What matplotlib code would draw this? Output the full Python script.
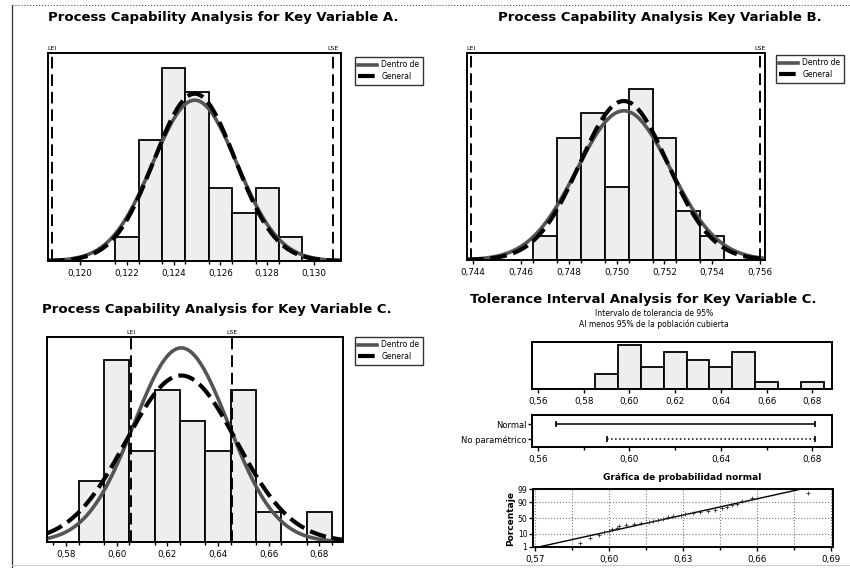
import numpy as np
import matplotlib
matplotlib.use("Agg")
import matplotlib.pyplot as plt
from matplotlib.lines import Line2D
from statistics import NormalDist

# -------- DATA --------
# Variable A (bin centres, counts, spec limits, fitted normals)
a_centers = [0.122, 0.123, 0.124, 0.125, 0.126, 0.127, 0.128, 0.129]
a_counts = [1, 5, 8, 7, 3, 2, 3, 1]
a_lsl, a_usl = 0.1188, 0.1308
a_mean, a_sd_within, a_sd_overall = 0.1249, 0.00180, 0.00173
a_ticks = [0.120, 0.122, 0.124, 0.126, 0.128, 0.130]
a_ticklabels = ["0,120", "0,122", "0,124", "0,126", "0,128", "0,130"]

# Variable B
b_centers = [0.747, 0.748, 0.749, 0.750, 0.751, 0.752, 0.753, 0.754]
b_counts = [1, 5, 6, 3, 7, 5, 2, 1]
b_lsl, b_usl = 0.7439, 0.7560
b_mean, b_sd_within, b_sd_overall = 0.7503, 0.00196, 0.00184
b_ticks = [0.744, 0.746, 0.748, 0.750, 0.752, 0.754, 0.756]
b_ticklabels = ["0,744", "0,746", "0,748", "0,750", "0,752", "0,754", "0,756"]

# Variable C (individual observations)
c_sample = [0.588, 0.592,
            0.596, 0.598, 0.600, 0.601, 0.603, 0.604,
            0.607, 0.610, 0.613,
            0.616, 0.618, 0.620, 0.622, 0.624,
            0.626, 0.629, 0.631, 0.634,
            0.637, 0.640, 0.643,
            0.646, 0.648, 0.650, 0.652, 0.654,
            0.658,
            0.681]
c_bins = [0.585, 0.595, 0.605, 0.615, 0.625, 0.635, 0.645, 0.655, 0.665, 0.675, 0.685]
c_lsl, c_usl = 0.6055, 0.6455
c_mean, c_sd_within, c_sd_overall = 0.6255, 0.0187, 0.0218
c_ticks = [0.58, 0.60, 0.62, 0.64, 0.66, 0.68]
c_ticklabels = ["0,58", "0,60", "0,62", "0,64", "0,66", "0,68"]

# Tolerance interval panel
d_ticks = [0.56, 0.58, 0.60, 0.62, 0.64, 0.66, 0.68]
d_ticklabels = ["0,56", "0,58", "0,60", "0,62", "0,64", "0,66", "0,68"]
int_ticks = [0.56, 0.60, 0.64, 0.68]
int_ticklabels = ["0,56", "0,60", "0,64", "0,68"]
int_names = ["Normal", "No paramétrico"]
int_low = [0.568, 0.590]
int_high = [0.681, 0.681]
prob_ticks = [0.57, 0.60, 0.63, 0.66, 0.69]
prob_ticklabels = ["0,57", "0,60", "0,63", "0,66", "0,69"]
prob_pct = [1, 10, 50, 90, 99]

W, H = 850, 568
plt.rcParams["font.family"] = ["DejaVu Sans"]
fig = plt.figure(figsize=(W / 100, H / 100), dpi=100)


def box(l, t, r, b):
    return [l / W, 1 - b / H, (r - l) / W, (b - t) / H]


def style_axes(ax):
    for s in ax.spines.values():
        s.set_linewidth(1.4)
    ax.tick_params(axis="x", labelsize=6.3, length=3, width=1, pad=3)
    ax.tick_params(axis="x", which="minor", length=2, width=1)


def capability(ax, centers, counts, width, lsl, usl, mean, sdw, sdo,
               ticks, labels, xlim, ytop):
    n = sum(counts)
    ax.bar(centers, counts, width=width, color="#eeeeee",
           edgecolor="black", linewidth=1.3)
    x = np.linspace(xlim[0], xlim[1], 400)
    pdf_w = n * width * np.exp(-0.5 * ((x - mean) / sdw) ** 2) / (sdw * np.sqrt(2 * np.pi))
    pdf_o = n * width * np.exp(-0.5 * ((x - mean) / sdo) ** 2) / (sdo * np.sqrt(2 * np.pi))
    ax.plot(x, pdf_w, color="#555555", lw=2.6, label="Dentro de")
    ax.plot(x, pdf_o, color="black", lw=3, dashes=(4, 1.6), label="General")
    ax.axvline(lsl, color="black", lw=1.4, dashes=(6, 3))
    ax.axvline(usl, color="black", lw=1.4, dashes=(6, 3))
    ax.text(lsl, ytop * 1.01, "LEI", ha="center", va="bottom", fontsize=4.5)
    ax.text(usl, ytop * 1.01, "LSE", ha="center", va="bottom", fontsize=4.5)
    ax.set_xlim(xlim)
    ax.set_ylim(0, ytop)
    ax.set_yticks([])
    ax.set_xticks(ticks)
    ax.set_xticklabels(labels)
    ax.set_xticks(np.array(centers) - width / 2, minor=True)
    style_axes(ax)


def cap_legend(ax, x, y):
    ax.legend(loc="upper left", bbox_to_anchor=(x / W, 1 - y / H),
              bbox_transform=fig.transFigure, fontsize=5.5, frameon=True,
              fancybox=False, edgecolor="black", handlelength=2.4,
              borderpad=0.45, labelspacing=0.35, handletextpad=0.6,
              borderaxespad=0).get_frame().set_linewidth(1.0)


# -------- PANEL A --------
ax_a = fig.add_axes(box(48, 53, 341, 261))
capability(ax_a, a_centers, a_counts, 0.001, a_lsl, a_usl, a_mean,
           a_sd_within, a_sd_overall, a_ticks, a_ticklabels,
           (0.11863, 0.13115), 8.6)
cap_legend(ax_a, 355, 57)
fig.text(223 / W, 1 - 18 / H, "Process Capability Analysis for Key Variable A.",
         ha="center", va="center", fontsize=9.5, fontweight="bold")

# -------- PANEL B --------
ax_b = fig.add_axes(box(467, 53, 765, 260))
capability(ax_b, b_centers, b_counts, 0.001, b_lsl, b_usl, b_mean,
           b_sd_within, b_sd_overall, b_ticks, b_ticklabels,
           (0.74375, 0.7562), 8.47)
cap_legend(ax_b, 776, 55)
fig.text(660 / W, 1 - 18 / H, "Process Capability Analysis Key Variable B.",
         ha="center", va="center", fontsize=9.5, fontweight="bold")

# -------- PANEL C --------
c_counts, _ = np.histogram(c_sample, bins=c_bins)
c_centers = (np.array(c_bins[:-1]) + np.array(c_bins[1:])) / 2
ax_c = fig.add_axes(box(47, 337, 343, 542))
capability(ax_c, c_centers, c_counts, 0.01, c_lsl, c_usl, c_mean,
           c_sd_within, c_sd_overall, c_ticks, c_ticklabels,
           (0.5725, 0.6894), 6.76)
ax_c.set_xticks(np.arange(0.575, 0.69, 0.01), minor=True)
cap_legend(ax_c, 355, 337)
fig.text(217 / W, 1 - 310 / H, "Process Capability Analysis for Key Variable C.",
         ha="center", va="center", fontsize=9.5, fontweight="bold")

# -------- PANEL D: tolerance interval --------
fig.text(643 / W, 1 - 300 / H, "Tolerance Interval Analysis for Key Variable C.",
         ha="center", va="center", fontsize=9.5, fontweight="bold")
fig.text(654 / W, 1 - 313 / H, "Intervalo de tolerancia de 95%",
         ha="center", va="center", fontsize=5.5)
fig.text(654 / W, 1 - 324 / H, "Al menos 95% de la población cubierta",
         ha="center", va="center", fontsize=5.5)

ax_h = fig.add_axes(box(532, 342, 832, 389))
ax_h.hist(c_sample, bins=c_bins, color="#eeeeee", edgecolor="black", linewidth=1.3)
ax_h.set_xlim(0.5574, 0.6886)
ax_h.set_ylim(0, 6.4)
ax_h.set_yticks([])
ax_h.set_xticks(d_ticks)
ax_h.set_xticklabels(d_ticklabels)
style_axes(ax_h)

ax_i = fig.add_axes(box(532, 415, 832, 447))
ypos = [1, 0]
for y, lo, hi, ls in zip(ypos, int_low, int_high, ["-", ":"]):
    ax_i.plot([lo, hi], [y, y], color="black", lw=1.1, linestyle=ls)
    ax_i.plot([lo, hi], [y, y], color="black", lw=0, marker="|", ms=5, mew=1.2)
ax_i.set_xlim(0.5574, 0.6886)
ax_i.set_ylim(-0.5, 1.6)
ax_i.set_yticks(ypos)
ax_i.set_yticklabels(int_names, fontsize=6)
ax_i.tick_params(axis="y", length=3, width=1, pad=1)
ax_i.set_xticks(int_ticks)
ax_i.set_xticklabels(int_ticklabels)
ax_i.set_xticks([0.58, 0.62, 0.66], minor=True)
style_axes(ax_i)

# normal probability plot
nd = NormalDist()
ax_p = fig.add_axes(box(533, 489, 833, 547))
xs = np.sort(c_sample)
n = len(xs)
zs = [nd.inv_cdf((i + 1 - 0.3) / (n + 0.4)) for i in range(n)]
sd = np.std(xs, ddof=1)
zline = np.array([-2.45, 2.45])
ax_p.plot(np.mean(xs) + zline * sd, zline, color="black", lw=1.0)
ax_p.plot(xs, zs, linestyle="none", marker="+", ms=3, mew=0.6, color="#333333")
ax_p.set_xlim(0.5690, 0.6910)
ax_p.set_ylim(nd.inv_cdf(0.0098), nd.inv_cdf(0.9902))
ax_p.set_yticks([nd.inv_cdf(p / 100) for p in prob_pct])
ax_p.set_yticklabels([str(p) for p in prob_pct], fontsize=5.5)
ax_p.set_xticks(prob_ticks)
ax_p.set_xticklabels(prob_ticklabels)
ax_p.set_xticks([0.585, 0.615, 0.645, 0.675], minor=True)
ax_p.grid(True, which="both", color="#777777", linestyle=":", linewidth=0.8)
ax_p.tick_params(axis="y", length=3, width=1, pad=1)
ax_p.set_ylabel("Porcentaje", fontsize=6.5, fontweight="bold", labelpad=2)
style_axes(ax_p)
fig.text(682 / W, 1 - 478 / H, "Gráfica de probabilidad normal",
         ha="center", va="center", fontsize=6.5, fontweight="bold")

# page border of the scan
fig.add_artist(Line2D([12 / W, 12 / W], [0, 1 - 5 / H], color="#333333", lw=0.9,
                      transform=fig.transFigure))
fig.add_artist(Line2D([12 / W, 1], [1 - 5 / H, 1 - 5 / H], color="#555555", lw=0.8,
                      linestyle=":", transform=fig.transFigure))
fig.add_artist(Line2D([12 / W, 1], [1 - 565 / H, 1 - 565 / H], color="#cccccc", lw=0.8,
                      transform=fig.transFigure))

fig.savefig("out.png", dpi=100)
